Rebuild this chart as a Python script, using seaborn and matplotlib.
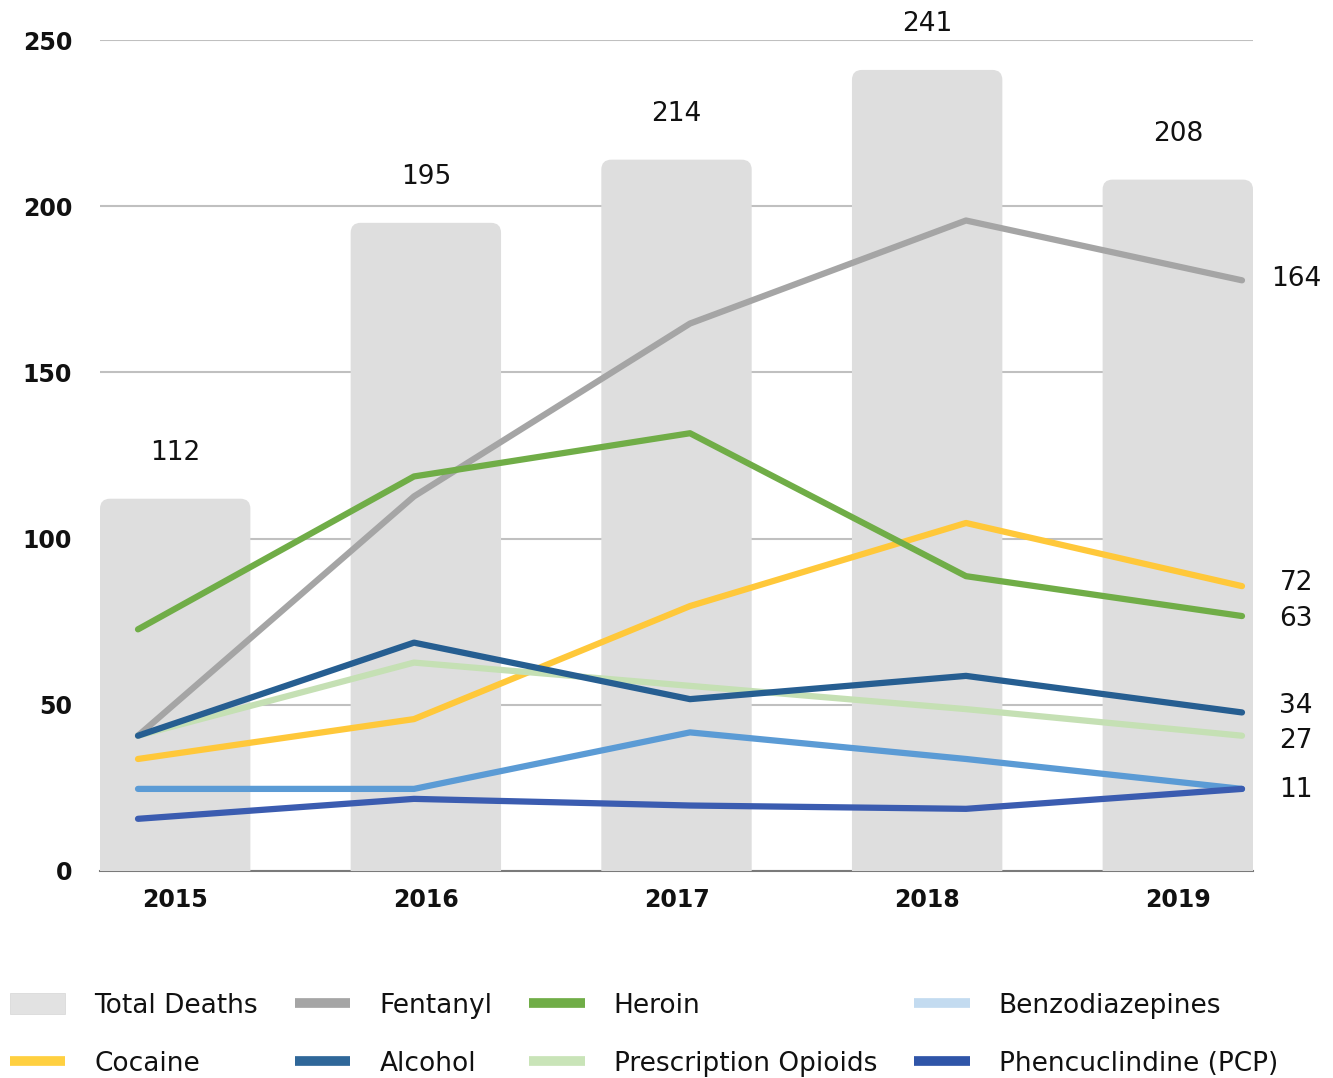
import numpy as np
import pandas as pd
import matplotlib
matplotlib.use("Agg")
import matplotlib.pyplot as plt
from matplotlib.patches import FancyBboxPatch, Patch
from matplotlib.lines import Line2D
import seaborn as sns

# ---------------- data ----------------
years = [2015, 2016, 2017, 2018, 2019]
total_deaths = [112, 195, 214, 241, 208]

series_names = ["Fentanyl", "Cocaine", "Heroin", "Prescription Opioids",
                "Alcohol", "Benzodiazepines", "Phencuclindine (PCP)"]
fentanyl = [27, 99, 151, 182, 164]
cocaine = [20, 32, 66, 91, 72]
heroin = [59, 105, 118, 75, 63]
rx_opioids = [27, 49, 42, 35, 27]
alcohol = [27, 55, 38, 45, 34]
benzodiazepines = [11, 11, 28, 20, 11]
pcp = [2, 8, 6, 5, 11]
series_values = [fentanyl, cocaine, heroin, rx_opioids, alcohol, benzodiazepines, pcp]

y_ticks = [0, 50, 100, 150, 200, 250]

# ---------------- styles ----------------
line_colors = {
    "Fentanyl": "#A5A5A5",
    "Cocaine": "#FFC83A",
    "Heroin": "#70AD47",
    "Prescription Opioids": "#C5E0B4",
    "Alcohol": "#265E91",
    "Benzodiazepines": "#5B9BD5",
    "Phencuclindine (PCP)": "#3B5CB0",
}
legend_colors = {
    "Fentanyl": "#A5A5A5",
    "Cocaine": "#FFD040",
    "Heroin": "#70AD47",
    "Prescription Opioids": "#C9E4B8",
    "Alcohol": "#2F6799",
    "Benzodiazepines": "#C3DBF0",
    "Phencuclindine (PCP)": "#2F55A8",
}
bar_color = "#DEDEDE"
label_nudge_pt = {"Fentanyl": 1, "Cocaine": 2, "Heroin": -2,
                  "Alcohol": 5, "Prescription Opioids": -4,
                  "Benzodiazepines": -1, "Phencuclindine (PCP)": -1}

sns.set_theme(style="white")
plt.rcParams["font.family"] = ["DejaVu Sans"]

W, H = 1333, 1078
fig = plt.figure(figsize=(W / 100, H / 100), dpi=100)
left, right, top, bottom = 100, 1253, 40, 871
pos = [left / W, 1 - bottom / H, (right - left) / W, (bottom - top) / H]
ax = fig.add_axes(pos)

# ---------------- bars ----------------
bars_df = pd.DataFrame({"Year": years, "Total Deaths": total_deaths})
sns.barplot(data=bars_df, x="Year", y="Total Deaths", color=bar_color,
            width=0.6, saturation=1, ax=ax, zorder=2)
ax.set_xlim(-0.3, 4.3)
ax.set_ylim(0, 250)

# rounded tops
old = list(ax.patches)
for p in old:
    x0, w, h = p.get_x(), p.get_width(), p.get_height()
    p.remove()
    fb = FancyBboxPatch((x0, -6), w, h + 6,
                        boxstyle="round,pad=0,rounding_size=0.04",
                        mutation_aspect=75, facecolor=bar_color,
                        edgecolor="none", zorder=2)
    ax.add_patch(fb)

for i, v in enumerate(total_deaths):
    ax.annotate(str(v), xy=(i, v), xytext=(0, 33), textcoords="offset points",
                ha="center", va="center", fontsize=19, color="#111111",
                annotation_clip=False)

ax.set_yticks(y_ticks)
ax.yaxis.grid(True, color="#C0C0C0", linewidth=1.5, zorder=0)
ax.xaxis.grid(False)
ax.set_axisbelow(True)
for s in ["left", "right", "top"]:
    ax.spines[s].set_visible(False)
ax.spines["bottom"].set_color("#7A7A7A")
ax.spines["bottom"].set_linewidth(1.5)
ax.spines["bottom"].set_zorder(1)
ax.tick_params(axis="both", length=0)
ax.tick_params(axis="y", pad=20, labelsize=17)
ax.tick_params(axis="x", pad=12, labelsize=17)
for t in ax.get_yticklabels() + ax.get_xticklabels():
    t.set_fontweight("bold")
    t.set_color("#111111")
ax.set_xlabel("")
ax.set_ylabel("")

# ---------------- lines (secondary scale) ----------------
ax2 = fig.add_axes(pos, frameon=False)
rows = []
for name, vals in zip(series_names, series_values):
    for yr, v in zip(years, vals):
        rows.append({"Year": yr, "Series": name, "Deaths": v})
lines_df = pd.DataFrame(rows)
sns.lineplot(data=lines_df, x="Year", y="Deaths", hue="Series",
             hue_order=series_names, palette=line_colors, linewidth=4.5,
             solid_capstyle="round", solid_joinstyle="round",
             legend=False, ax=ax2, zorder=3)
ax2.set_xlim(2015 - 38 / 276, 2019 + 11 / 276)
ax2.set_ylim(-13.7, 236.3)
ax2.set_axis_off()

done = set()
for name, vals in zip(series_names, series_values):
    v = vals[-1]
    if v in done:
        continue
    done.add(v)
    ax2.annotate(str(v), xy=(years[-1], v),
                 xytext=(39, label_nudge_pt.get(name, 0)),
                 textcoords="offset points", ha="center", va="center",
                 fontsize=19, color="#111111", annotation_clip=False)

# ---------------- legend ----------------
def line_handle(name):
    return Line2D([0], [0], color=legend_colors[name], linewidth=7,
                  solid_capstyle="butt")

order = [("Total Deaths", None), ("Cocaine", 1), ("Fentanyl", 1), ("Alcohol", 1),
         ("Heroin", 1), ("Prescription Opioids", 1), ("Benzodiazepines", 1),
         ("Phencuclindine (PCP)", 1)]
handles, labels = [], []
for name, kind in order:
    if kind is None:
        handles.append(Patch(facecolor="#E2E2E2", edgecolor="#D5D5D5", linewidth=0.5))
    else:
        handles.append(line_handle(name))
    labels.append(name)

fig.legend(handles, labels, ncol=4, loc="upper left",
           bbox_to_anchor=(10 / W, 1 - 993 / H), frameon=False,
           fontsize=19, handlelength=2.1, handleheight=0.85,
           handletextpad=1.1, columnspacing=1.4, labelspacing=1.2,
           borderpad=0, borderaxespad=0, labelcolor="#111111")

fig.savefig("out.png", dpi=100)
